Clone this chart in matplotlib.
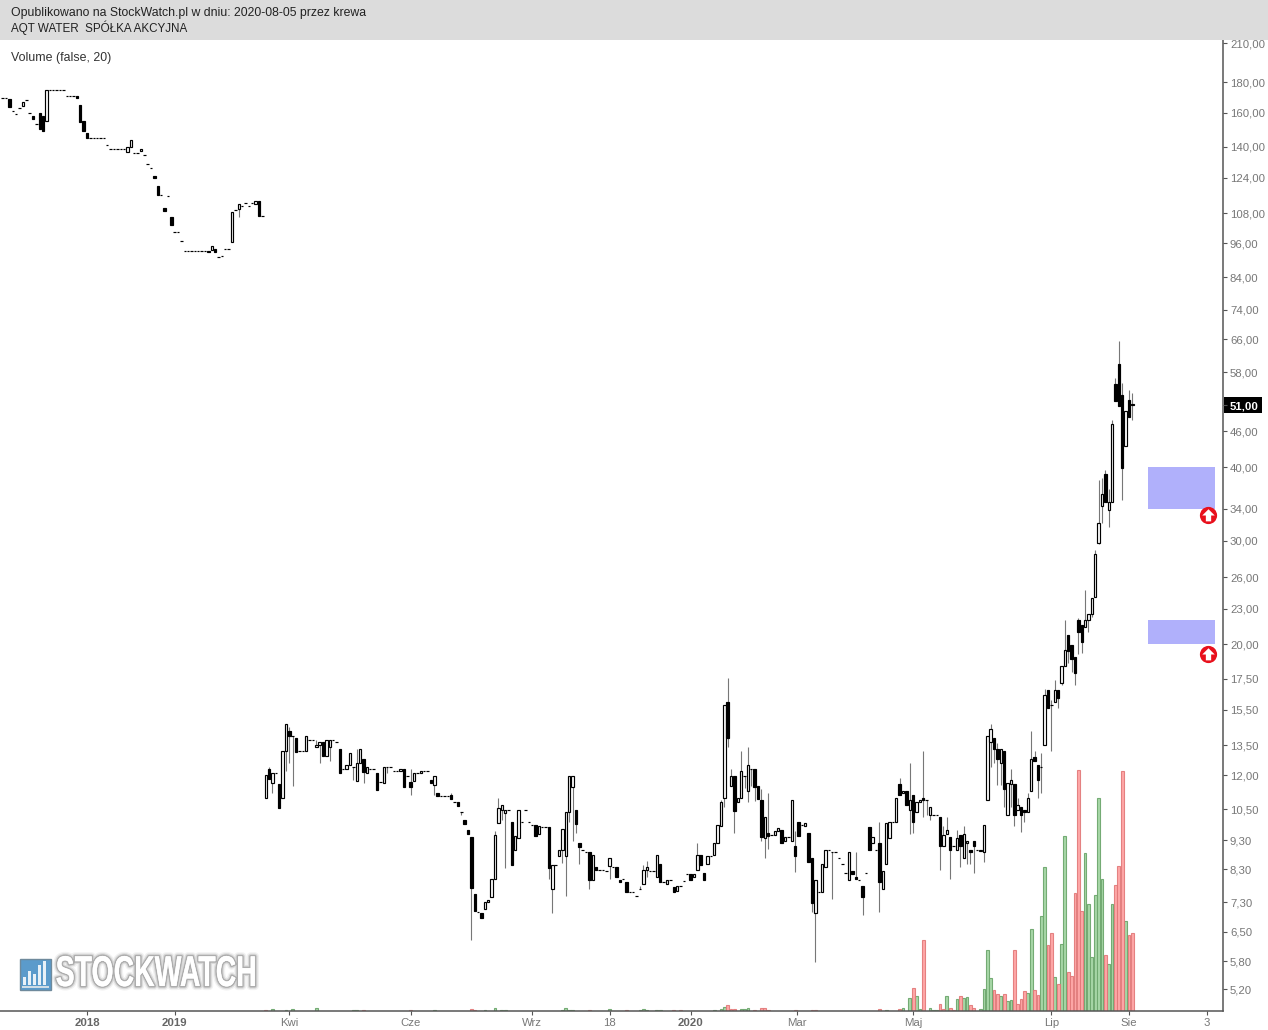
import matplotlib
matplotlib.use('Agg')
import matplotlib.pyplot as plt
import matplotlib.patheffects as pe
from matplotlib.patches import Rectangle
from matplotlib.path import Path
from matplotlib.transforms import Affine2D
import numpy as np

plt.rcParams['font.family'] = ['Liberation Sans', 'DejaVu Sans']

# daily candles (the big jump at bar 78 is in the original)
opens = [
    169.6, 169.6, 168.7, 161.0, 158.9, 162.9, 164.3, 168.0, 159.6, 157.9,
    153.0, 159.6, 157.9, 154.8, 174.8, 174.8, 174.8, 174.8, 174.8, 170.6,
    170.4, 170.4, 170.4, 164.7, 154.9, 147.5, 144.8, 144.8, 144.8, 144.8,
    144.8, 141.0, 138.9, 138.9, 138.9, 138.9, 138.9, 137.0, 139.6, 136.4,
    136.4, 137.5, 135.5, 131.0, 128.8, 125.1, 119.9, 115.8, 110.1, 115.3,
    106.4, 100.3, 100.3, 97.0, 93.1, 93.1, 93.1, 93.1, 93.1, 93.1,
    93.1, 93.1, 93.6, 93.9, 90.9, 91.4, 93.9, 93.9, 96.4, 109.3,
    109.8, 111.2, 112.2, 111.2, 112.4, 112.1, 113.1, 106.8,
    10.96, 12.29, 11.65, 12.08, 11.59, 10.96, 13.17, 14.27, 13.97, 13.87,
    13.17, 13.17, 13.17, 13.75, 13.75, 13.38, 13.49, 13.65, 12.95, 13.38,
    13.75, 13.65, 13.28, 12.27, 12.27, 12.47, 12.37, 11.74, 12.57, 12.77,
    12.08, 12.27, 12.27, 12.08, 11.67, 11.65, 12.37, 12.37, 12.18, 12.18,
    12.18, 12.27, 11.98, 11.68, 11.74, 12.08, 12.08, 12.18, 12.18, 11.77,
    11.56, 11.17, 11.07, 11.07, 11.07, 11.09, 10.79, 10.79, 10.38, 10.06,
    9.67, 9.41, 7.54, 7.02, 6.99, 7.11, 7.31, 7.46, 8.01, 9.96,
    10.46, 10.36, 10.46, 9.98, 8.97, 9.37, 9.98, 10.46, 9.98, 9.88,
    9.88, 9.53, 9.80, 9.80, 9.80, 7.68, 8.45, 8.76, 8.97, 8.76,
    10.38, 11.47, 10.47, 9.19, 8.97, 8.89, 8.89, 7.97, 8.37, 8.27,
    8.27, 8.24, 8.42, 8.37, 8.37, 7.98, 8.00, 7.89, 7.59, 7.59,
    7.48, 7.68, 7.84, 8.27, 8.25, 8.25, 8.07, 8.47, 7.89, 7.84,
    7.98, 7.74, 7.62, 7.77, 7.93, 8.16, 8.16, 8.06, 8.27, 8.77,
    8.17, 8.47, 8.74, 8.77, 9.22, 9.84, 10.96, 15.96, 11.49, 11.98,
    10.79, 10.96, 11.98, 11.26, 12.27, 12.27, 11.49, 10.88, 9.37, 9.56,
    9.48, 9.48, 9.63, 9.67, 9.26, 9.41, 9.26, 9.08, 9.98, 9.88,
    9.84, 9.56, 8.67, 6.99, 7.59, 7.59, 8.37, 8.97, 8.87, 8.87,
    8.67, 8.47, 8.17, 7.98, 8.24, 8.07, 7.98, 7.77, 8.17, 9.80,
    9.19, 8.97, 9.21, 7.68, 8.47, 9.37, 9.98, 9.98, 11.57, 11.17,
    11.26, 10.46, 11.09, 10.38, 10.79, 10.96, 10.88, 10.26, 10.26, 10.26,
    10.18, 9.08, 9.52, 9.41, 9.11, 8.97, 9.48, 8.67, 9.19, 8.97,
    9.26, 8.94, 8.91, 8.87, 10.88, 13.65, 13.86, 13.28, 12.57, 13.17,
    10.26, 11.59, 11.57, 10.46, 10.58, 10.46, 10.38, 11.26, 12.87, 12.47,
    12.37, 13.49, 16.71, 15.77, 15.96, 16.71, 17.23, 18.36, 20.73, 19.93,
    19.03, 22.0, 21.55, 21.40, 21.98, 22.5, 24.1, 29.7, 34.4, 39.0,
    33.9, 34.9, 55.4, 59.9, 53.1, 43.5, 52.0, 51.2,
]
closes = [
    169.6, 169.6, 163.6, 161.0, 158.9, 162.9, 166.9, 168.0, 159.6, 156.2,
    153.0, 149.9, 149.1, 174.8, 174.8, 174.8, 174.8, 174.8, 174.8, 170.6,
    170.4, 170.4, 169.1, 154.4, 148.9, 144.7, 144.8, 144.8, 144.8, 144.8,
    144.8, 141.0, 138.9, 138.9, 138.9, 138.9, 138.9, 139.6, 143.6, 136.4,
    136.4, 138.9, 135.5, 131.0, 128.8, 123.8, 115.8, 115.8, 108.9, 115.3,
    103.1, 100.3, 100.3, 97.0, 93.1, 93.1, 93.1, 93.1, 93.1, 93.1,
    93.1, 92.7, 95.1, 92.9, 90.9, 91.4, 93.9, 93.9, 108.3, 109.3,
    112.1, 111.2, 112.2, 111.2, 112.4, 113.1, 106.8, 106.8,
    12.00, 11.82, 12.08, 12.08, 10.57, 13.17, 14.64, 13.97, 13.97, 13.15,
    13.17, 13.17, 13.97, 13.75, 13.75, 13.49, 13.65, 12.95, 13.75, 13.75,
    13.75, 13.65, 12.08, 12.27, 12.47, 13.07, 12.37, 12.57, 13.28, 12.16,
    12.37, 12.27, 12.27, 11.33, 11.67, 12.37, 12.37, 12.37, 12.18, 12.18,
    12.27, 11.47, 11.98, 11.47, 12.08, 12.08, 12.18, 12.18, 12.18, 11.65,
    11.98, 11.07, 11.07, 11.07, 11.07, 10.95, 10.79, 10.64, 10.38, 9.91,
    9.53, 7.73, 7.06, 7.02, 6.87, 7.31, 7.38, 8.01, 9.48, 10.57,
    10.67, 10.46, 10.46, 8.44, 9.47, 10.46, 9.98, 10.46, 9.98, 9.88,
    9.47, 9.84, 9.80, 9.80, 8.35, 8.45, 8.45, 8.97, 9.71, 10.38,
    11.98, 11.98, 9.91, 9.07, 8.97, 8.89, 7.97, 8.77, 8.28, 8.27,
    8.27, 8.24, 8.67, 8.37, 8.06, 7.89, 8.00, 7.59, 7.59, 7.59,
    7.48, 7.68, 8.27, 8.37, 8.25, 8.25, 8.77, 7.89, 7.89, 7.98,
    7.98, 7.61, 7.77, 7.77, 7.93, 8.16, 7.98, 8.14, 8.77, 8.45,
    7.98, 8.74, 8.74, 9.19, 9.88, 10.79, 15.78, 13.86, 11.98, 10.44,
    10.96, 12.18, 11.98, 12.47, 12.27, 11.47, 10.95, 9.41, 10.18, 9.47,
    9.48, 9.63, 9.77, 9.19, 9.41, 9.41, 10.88, 8.76, 9.47, 9.88,
    9.95, 8.53, 7.27, 7.98, 7.59, 8.47, 8.97, 8.97, 8.87, 8.87,
    8.67, 8.47, 8.17, 8.87, 8.14, 8.01, 7.98, 7.46, 8.17, 8.97,
    9.41, 8.97, 7.91, 8.24, 9.95, 9.98, 9.98, 10.96, 11.09, 11.26,
    10.67, 10.88, 9.98, 10.79, 10.88, 10.88, 10.88, 10.58, 10.26, 10.26,
    9.08, 9.48, 9.67, 8.97, 9.11, 9.37, 9.08, 9.52, 9.26, 8.89,
    9.08, 8.94, 8.97, 9.88, 13.97, 14.36, 13.28, 12.77, 13.28, 11.35,
    11.62, 11.76, 10.26, 10.67, 10.26, 10.38, 10.96, 12.77, 12.68, 11.76,
    12.37, 16.40, 15.58, 15.77, 16.77, 16.22, 18.36, 19.55, 19.47, 18.87,
    17.91, 20.96, 20.17, 21.98, 22.5, 23.96, 28.54, 32.1, 36.0, 34.9,
    34.9, 47.4, 51.9, 50.9, 39.8, 49.8, 48.6, 51.0,
]

# wicks only where one is visible
hi_bars = [79, 85, 93, 105, 121, 133, 146, 147, 189, 190, 191, 206, 213, 215, 216, 219, 221, 225,
           227, 235, 253, 260, 266, 269, 273, 279, 280, 283, 285, 293, 295, 299, 301, 304, 305, 306,
           308, 309, 311, 312, 315, 319, 321, 324, 325, 326, 327, 328, 329, 330, 331, 332, 334, 335]
hi_vals = [12.40, 14.49, 13.75, 13.28, 12.27, 11.17, 9.65, 10.96, 7.78, 8.44, 8.58, 9.21, 10.89, 17.52, 12.29, 13.19, 13.41, 11.35,
           11.17, 9.63, 8.87, 9.98, 11.88, 12.57, 13.19, 9.82, 10.18, 9.67, 9.82, 14.64, 13.60, 12.27, 10.96, 11.17, 14.25, 13.17,
           13.07, 16.80, 16.12, 17.40, 22.0, 22.15, 24.75, 28.9, 38.1, 38.4, 39.6, 36.7, 48.1, 56.6, 65.6, 55.5, 54.0, 53.5]
lo_bars = [70, 80, 84, 85, 86, 94, 97, 104, 107, 114, 121, 128, 136, 139, 148, 149, 162, 163, 166, 167,
           168, 169, 170, 171, 174, 180, 191, 214, 215, 217, 220, 221, 222, 223, 225, 226, 227, 235, 240, 241,
           246, 255, 260, 269, 270, 273, 274, 275, 278, 281, 284, 286, 287, 288, 291, 293, 294, 295, 296, 297,
           299, 300, 302, 303, 307, 308, 311, 313, 314, 316, 317, 318, 319, 320, 322, 323, 325, 326, 328, 332, 335]
lo_vals = [106.5, 11.20, 12.21, 12.60, 11.50, 12.60, 12.69, 11.77, 11.62, 12.11, 11.10, 11.10, 10.27, 6.30, 10.07, 8.35, 8.01, 7.01, 8.51, 7.49,
           9.98, 9.28, 9.58, 8.48, 7.69, 8.01, 8.06, 10.61, 13.41, 9.58, 11.39, 10.82, 11.51, 10.83, 9.28, 8.69, 8.98, 8.21, 7.02, 5.79,
           7.40, 6.94, 7.02, 9.52, 9.56, 10.20, 10.28, 10.07, 8.28, 8.01, 8.39, 8.47, 8.47, 8.20, 8.55, 12.40, 12.57, 11.53, 11.53, 10.61,
           10.61, 9.82, 9.60, 10.00, 10.96, 11.17, 13.21, 15.58, 17.07, 18.62, 17.98, 17.07, 19.27, 19.35, 21.0, 22.23, 29.6, 32.15, 31.6, 35.2, 48.1]

# volume, arbitrary units
green_bars = [80, 84, 86, 93, 104, 105, 128, 143, 146, 148, 149, 166, 167, 168, 169, 180, 189, 190, 191, 194, 195,
              211, 213, 214, 219, 220, 221, 262, 267, 269, 271, 272, 275, 276, 277, 280, 283, 285, 286, 290, 291,
              292, 293, 296, 298, 299, 304, 305, 308, 309, 312, 314, 315, 321, 322, 323, 324, 325, 326, 328, 329, 333]
green_vols = [2, 1, 2, 3, 1, 1, 1, 1, 3, 1, 1, 1, 3, 1, 1, 2, 1, 2, 1, 1, 1,
              1, 2, 4, 2, 2, 3, 1, 3, 13, 15, 2, 3, 1, 1, 15, 12, 13, 14, 2, 22,
              61, 33, 15, 10, 11, 18, 82, 95, 144, 34, 67, 175, 158, 107, 54, 116, 213, 132, 47, 107, 90]
red_bars = [78, 107, 121, 139, 140, 174, 185, 199, 201, 215, 216, 217, 223, 225, 226, 227, 235, 240, 241, 260, 266,
            270, 273, 278, 279, 281, 282, 284, 287, 288, 294, 295, 297, 300, 301, 302, 303, 306, 307, 310, 311,
            313, 316, 317, 318, 319, 320, 327, 330, 331, 332, 334, 335]
red_vols = [1, 1, 1, 2, 1, 1, 1, 1, 1, 6, 2, 2, 1, 3, 3, 1, 1, 1, 1, 2, 2,
            23, 71, 7, 2, 3, 1, 15, 6, 3, 21, 17, 17, 61, 7, 12, 20, 21, 16, 66, 78,
            27, 39, 35, 118, 241, 100, 56, 126, 145, 240, 76, 78]

# axis ticks
price_ticks = [210, 180, 160, 140, 124, 108, 96, 84, 74, 66, 58, 51, 46, 40, 34, 30, 26, 23, 20,
               17.5, 15.5, 13.5, 12, 10.5, 9.3, 8.3, 7.3, 6.5, 5.8, 5.2]
date_bars = [25, 51, 85, 121, 157, 180, 204, 235.5, 270, 311, 334, 357]
date_labels = ['2018', '2019', 'Kwi', 'Cze', 'Wrz', '18', '2020', 'Mar', 'Maj', 'Lip', 'Sie', '3']
last_price = 51

# signal boxes and arrows
zone_low = [34, 20]
zone_high = [40, 22]
zone_start = 339.6
zone_end = 359.6
arrow_bar = 357.5
arrow_price = [33.2, 19.3]


class Squeezed(pe.AbstractPathEffect):
    # squeezes a text sideways, no narrow bold font is installed
    def __init__(self, sx, x0, inner):
        super().__init__()
        self.sx, self.x0, self.inner = sx, x0, inner

    def draw_path(self, renderer, gc, tpath, affine, rgbFace=None):
        squeeze = affine + Affine2D().translate(-self.x0, 0).scale(self.sx, 1).translate(self.x0, 0)
        self.inner.draw_path(renderer, gc, tpath, squeeze, rgbFace)


W, H = 1268, 1030
fig = plt.figure(figsize=(W / 100, H / 100), dpi=100, facecolor='white')
ax = fig.add_axes([0, (H - 1011) / H, 1223 / W, (1011 - 40) / H])
ax.set_zorder(2)
ax.patch.set_visible(False)
ax_vol = ax.twinx()
ax_vol.set_zorder(1)


def px_rect(x, y, w, h, **kw):
    r = Rectangle((x / W, 1 - (y + h) / H), w / W, h / H, transform=fig.transFigure, **kw)
    fig.add_artist(r)
    return r


# volume
ax_vol.bar(green_bars, green_vols, width=0.82, color='#a3d6a3', edgecolor='#6fa86f', linewidth=0.8, alpha=0.95)
ax_vol.bar(red_bars, red_vols, width=0.82, color='#ff9f9f', edgecolor='#e27878', linewidth=0.8, alpha=0.9)
ax_vol.set_ylim(-0.5, 970.5)
ax_vol.axis('off')

# candles
ax.set_yscale('log')
bars = np.arange(len(opens))
o = np.array(opens)
c = np.array(closes)
top = np.maximum(o, c)
bot = np.minimum(o, c)
ax.vlines(hi_bars, top[hi_bars], hi_vals, color='#777777', linewidth=0.8, zorder=2)
ax.vlines(lo_bars, bot[lo_bars], lo_vals, color='#777777', linewidth=0.8, zorder=2)
face = ['white' if cl > op else 'black' for op, cl in zip(opens, closes)]
ax.bar(bars, top - bot, bottom=bot, width=0.72, color=face, edgecolor='black', linewidth=0.85, zorder=3)

# zones and arrows
for lo, hi in zip(zone_low, zone_high):
    ax.fill_between([zone_start, zone_end], lo, hi, color='#b0b0fb', linewidth=0, zorder=1)
arrow_path = Path([(0, 0.8), (0.8, 0.0), (0.34, 0.0), (0.34, -0.75), (-0.34, -0.75), (-0.34, 0.0), (-0.8, 0.0), (0, 0.8)])
ax.plot([arrow_bar] * 2, arrow_price, 'o', color='#e8101c', markersize=12.4, markeredgewidth=0, zorder=4)
ax.plot([arrow_bar] * 2, arrow_price, marker=arrow_path, linestyle='none', color='white', markersize=9, markeredgewidth=0, zorder=5)

# axes
ax.set_xlim((0 - 2.7) / 3.372, (1223 - 2.7) / 3.372)
ax.set_ylim(210 * np.exp(-968 / 255.8), 210 * np.exp(3 / 255.8))
ax.set_yticks(price_ticks)
ax.set_yticklabels([('%.2f' % p).replace('.', ',') for p in price_ticks])
ax.yaxis.set_minor_locator(plt.NullLocator())
ax.yaxis.set_minor_formatter(plt.NullFormatter())
ax.yaxis.tick_right()
ax.set_xticks(date_bars)
ax.set_xticklabels(date_labels)
for s in ['top', 'left']:
    ax.spines[s].set_visible(False)
for s in ['right', 'bottom']:
    ax.spines[s].set_color('#555555')
    ax.spines[s].set_linewidth(1.1)
ax.tick_params(axis='both', length=3, width=0.8, color='#555555', labelcolor='#777777', labelsize=8.2)
ax.tick_params(axis='y', pad=2)
ax.tick_params(axis='x', pad=2)
for lab in ax.get_xticklabels():
    if lab.get_text() in ('2018', '2019', '2020'):
        lab.set_fontweight('bold')
        lab.set_color('#666666')
for lab, p in zip(ax.get_yticklabels(), price_ticks):
    if p == last_price:
        lab.set_color('white')
        lab.set_fontweight('bold')
px_rect(1224, 397, 38, 16, facecolor='black', edgecolor='none', zorder=-1)

# header
px_rect(0, 0, W, 40, facecolor='#dcdcdc', edgecolor='none', zorder=5)
fig.text(11 / W, 1 - 13 / H, 'Opublikowano na StockWatch.pl w dniu: 2020-08-05 przez krewa', fontsize=8.83,
         color='#222222', va='center', zorder=6)
fig.text(11 / W, 1 - 27.5 / H, 'AQT WATER  SPÓŁKA AKCYJNA', fontsize=8.4, color='#222222', va='center', zorder=6)
fig.text(11 / W, 1 - 57.5 / H, 'Volume (false, 20)', fontsize=8.95, color='#333333', va='center', zorder=6)

# watermark
px_rect(20, 959, 31, 31, facecolor='#5b9bcb', edgecolor='#6f8a9c', linewidth=1, zorder=6)
for bx, bh in zip([23, 28, 33, 38, 43], [8, 14, 11, 20, 24]):
    px_rect(bx, 985 - bh, 3, bh, facecolor='#e8f1f7', edgecolor='none', zorder=7)
px_rect(22, 986, 27, 2, facecolor='#cfdde6', edgecolor='none', zorder=7)
fig.text(156 / W, 1 - 975 / H, 'STOCKWATCH', fontsize=31, fontweight='bold', color='white', ha='center', va='center',
         zorder=6,
         path_effects=[Squeezed(0.66, 156, pe.withStroke(linewidth=6, foreground='#000000', alpha=0.05)),
                       Squeezed(0.66, 156, pe.withStroke(linewidth=4, foreground='#000000', alpha=0.1)),
                       Squeezed(0.66, 156, pe.withStroke(linewidth=2.2, foreground='#000000', alpha=0.2)),
                       Squeezed(0.66, 156, pe.Normal())])

fig.savefig('out.png', dpi=100)
